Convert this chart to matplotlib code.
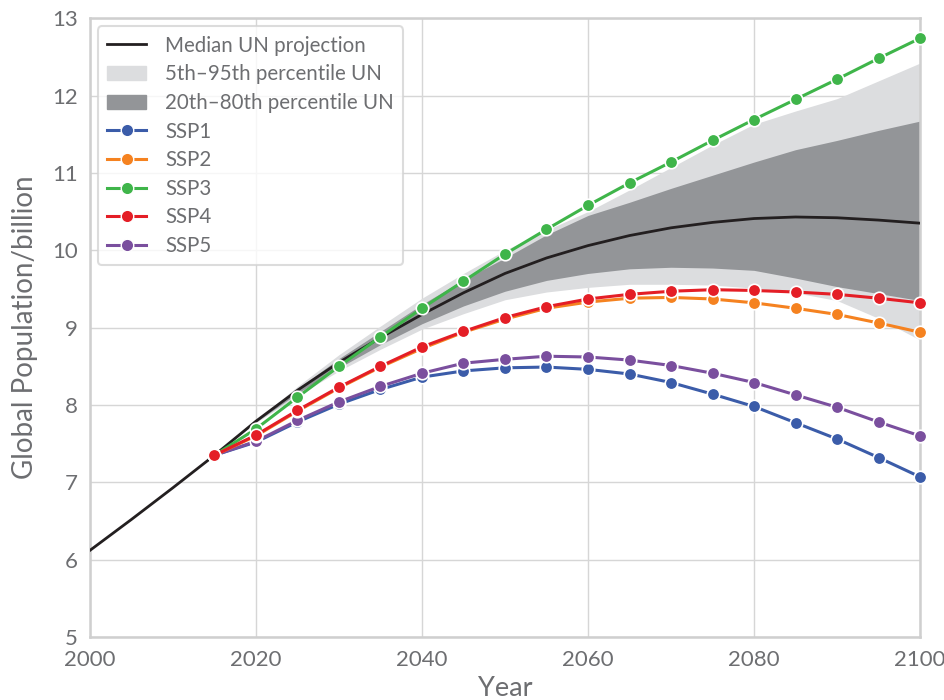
import matplotlib
matplotlib.use("Agg")
import matplotlib.pyplot as plt
from matplotlib.patches import Patch
from matplotlib.lines import Line2D

# UN median projection (5-year steps 2000-2100)
un_years = list(range(2000, 2101, 5))
un_median = [6.12, 6.52, 6.93, 7.35, 7.79, 8.19, 8.55, 8.87, 9.17, 9.45, 9.70,
             9.90, 10.06, 10.19, 10.29, 10.36, 10.41, 10.43, 10.42, 10.39, 10.35]

# percentile bands (2015-2100)
band_years = list(range(2015, 2101, 5))
p95 = [7.35, 7.80, 8.24, 8.65, 9.02, 9.38, 9.70, 10.00, 10.26, 10.50, 10.78,
       11.07, 11.36, 11.63, 11.80, 11.96, 12.19, 12.42]
p80 = [7.35, 7.79, 8.21, 8.60, 8.95, 9.30, 9.62, 9.90, 10.20, 10.45, 10.62,
       10.80, 10.97, 11.14, 11.30, 11.42, 11.55, 11.67]
p20 = [7.35, 7.78, 8.15, 8.48, 8.78, 9.05, 9.28, 9.47, 9.61, 9.70, 9.76,
       9.78, 9.77, 9.74, 9.64, 9.53, 9.44, 9.35]
p05 = [7.35, 7.77, 8.12, 8.44, 8.72, 8.98, 9.18, 9.36, 9.46, 9.52, 9.56,
       9.56, 9.55, 9.51, 9.45, 9.35, 9.12, 8.84]

# SSP scenarios (2015-2100)
ssp_years = list(range(2015, 2101, 5))
ssp1 = [7.35, 7.52, 7.78, 8.01, 8.20, 8.36, 8.44, 8.48, 8.49, 8.46, 8.40,
        8.29, 8.14, 7.98, 7.77, 7.56, 7.32, 7.07]
ssp2 = [7.35, 7.60, 7.92, 8.22, 8.49, 8.73, 8.94, 9.11, 9.25, 9.33, 9.38,
        9.39, 9.37, 9.32, 9.25, 9.17, 9.06, 8.94]
ssp3 = [7.35, 7.69, 8.10, 8.50, 8.88, 9.25, 9.60, 9.95, 10.27, 10.58, 10.87,
        11.14, 11.42, 11.69, 11.95, 12.21, 12.48, 12.74]
ssp4 = [7.35, 7.61, 7.93, 8.23, 8.50, 8.75, 8.95, 9.13, 9.27, 9.37, 9.43,
        9.47, 9.49, 9.48, 9.46, 9.43, 9.38, 9.32]
ssp5 = [7.35, 7.53, 7.80, 8.04, 8.24, 8.41, 8.54, 8.59, 8.63, 8.62, 8.58,
        8.51, 8.41, 8.29, 8.13, 7.97, 7.78, 7.60]

ssp_names = ["SSP1", "SSP2", "SSP3", "SSP4", "SSP5"]
ssp_colors = ["#3b5ca9", "#f58220", "#3fb54a", "#e41e26", "#7a4f9e"]
ssp_values = [ssp1, ssp2, ssp3, ssp4, ssp5]

text_col = "#6d6e71"
grid_col = "#d6d6d6"
plt.rcParams["font.family"] = ["Lato", "DejaVu Sans"]

fig = plt.figure(figsize=(9.44, 7.0), dpi=100)
ax = fig.add_axes([0.0953, 0.09, 0.8793, 0.884])

ax.fill_between(band_years, p05, p95, color="#dcdddf", lw=0, zorder=1)
ax.fill_between(band_years, p20, p80, color="#939598", lw=0, zorder=2)
ax.plot(un_years, un_median, color="#231f20", lw=2.0, zorder=3)

# drawing order: purple over blue, red over orange
order = [2, 0, 4, 1, 3]
for i in order:
    ax.plot(ssp_years, ssp_values[i], color=ssp_colors[i], lw=2.2, marker="o",
            markersize=9, markeredgecolor="white", markeredgewidth=1.2,
            zorder=4 + order.index(i), clip_on=False)

ax.set_xlim(2000, 2100)
ax.set_ylim(5, 13)
ax.set_xticks(range(2000, 2101, 20))
ax.set_yticks(range(5, 14))
ax.grid(True, color=grid_col, lw=1.0, zorder=0)
ax.set_axisbelow(True)
for s in ax.spines.values():
    s.set_color("#cfcfcf")
    s.set_linewidth(1.8)
ax.tick_params(length=0, colors=text_col, labelsize=16, pad=9)
ax.set_xlabel("Year", color=text_col, fontsize=19.5, labelpad=5)
ax.set_ylabel("Global Population/billion", color=text_col, fontsize=20, labelpad=10)

handles = [Line2D([], [], color="#231f20", lw=2.0),
           Patch(facecolor="#dcdddf", edgecolor="#dcdddf"),
           Patch(facecolor="#939598", edgecolor="#939598")]
labels = ["Median UN projection", "5th\u201395th percentile UN", "20th\u201380th percentile UN"]
for n, c in zip(ssp_names, ssp_colors):
    handles.append(Line2D([], [], color=c, lw=2.2, marker="o", markersize=9,
                          markeredgecolor="white", markeredgewidth=1.0))
    labels.append(n)
leg = ax.legend(handles, labels, loc="upper left", fontsize=14.8, frameon=True,
                labelcolor=text_col, handlelength=1.9, handletextpad=0.9,
                borderpad=0.45, labelspacing=0.42, borderaxespad=0.4)
leg.get_frame().set_edgecolor("#d4d4d4")
leg.get_frame().set_linewidth(1.5)
leg.set_zorder(20)

fig.savefig("out.png", dpi=100)
